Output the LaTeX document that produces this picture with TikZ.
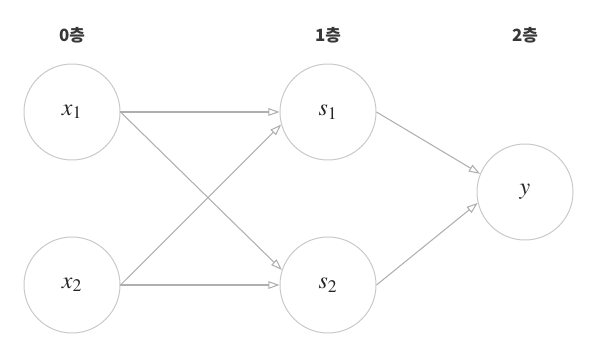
\documentclass[tikz,border=0pt]{standalone}
\usepackage{amsmath}
\usepackage{fontspec}
\usepackage{mathptmx}
\usepackage{tikz}
\usetikzlibrary{arrows.meta}
\newfontfamily\kor{Noto Sans CJK KR}
\definecolor{ringgray}{RGB}{200,200,200}
\definecolor{edgegray}{RGB}{175,175,175}
\definecolor{labgray}{RGB}{55,55,55}

\begin{document}
\begin{tikzpicture}[
  unit/.style={circle,draw=ringgray,line width=0.7pt,minimum size=2.4cm,inner sep=0pt,text=black!85,font=\fontsize{17}{20}\selectfont},
  layer/.style={text=labgray,font=\kor\fontsize{12}{14}\selectfont\bfseries},
  link/.style={draw=edgegray,line width=0.75pt,-{Triangle[open,length=8pt,width=5.5pt]}}]
\useasboundingbox (0,0) rectangle (15.25,8.775);
\node[layer] (l0) at (1.8,7.9) {0층};
\node[layer] (l1) at (8.2,7.9) {1층};
\node[layer] (l2) at (13.125,7.9) {2층};
\node[unit] (x1) at (1.8,5.975) {$x_{1}$};
\node[unit] (x2) at (1.8,1.65) {$x_{2}$};
\node[unit] (s1) at (8.2,5.975) {$s_{1}$};
\node[unit] (s2) at (8.2,1.65) {$s_{2}$};
\node[unit] (y) at (13.125,3.975) {$y$};
\draw[link] (x1.east) -- (s1.west);
\draw[link] (x1.east) -- (s2.162);
\draw[link] (x2.east) -- (s1.195);
\draw[link] (x2.east) -- (s2.west);
\draw[link] (s1.east) -- (y.158);
\draw[link] (s2.east) -- (y.193);
\end{tikzpicture}
\end{document}
